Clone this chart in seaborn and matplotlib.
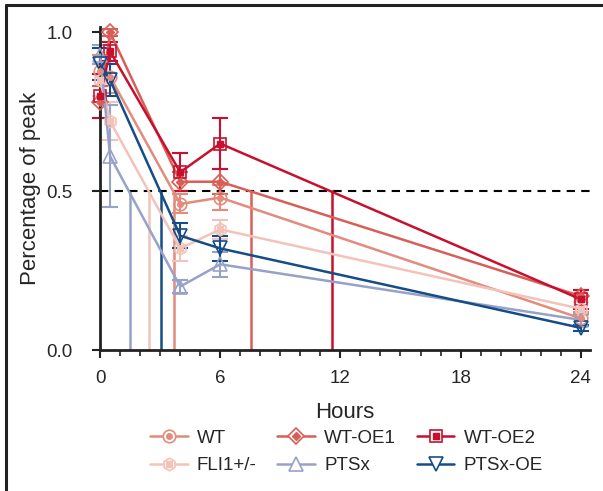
import numpy as np
import matplotlib.pyplot as plt
import seaborn as sns
from matplotlib.lines import Line2D
from matplotlib.legend_handler import HandlerTuple

# ---------------------------------------------------------
# data
# ---------------------------------------------------------
hours = [0, 0.5, 4, 6, 24]
series = ['WT', 'WT-OE1', 'WT-OE2', 'FLI1+/-', 'PTSx', 'PTSx-OE']

wt = [0.88, 0.86, 0.46, 0.48, 0.10]
wt_err = [0.05, 0.05, 0.03, 0.04, 0.02]
wt_oe1 = [0.78, 1.00, 0.53, 0.53, 0.17]
wt_oe1_err = [0.05, 0.01, 0.03, 0.04, 0.02]
wt_oe2 = [0.80, 0.94, 0.56, 0.65, 0.16]
wt_oe2_err = [0.07, 0.03, 0.06, 0.08, 0.03]
fli1 = [0.85, 0.72, 0.32, 0.38, 0.13]
fli1_err = [0.05, 0.06, 0.04, 0.03, 0.02]
ptsx = [0.93, 0.61, 0.20, 0.27, 0.095]
ptsx_err = [0.03, 0.16, 0.02, 0.04, 0.02]
ptsx_oe = [0.90, 0.85, 0.36, 0.32, 0.07]
ptsx_oe_err = [0.05, 0.05, 0.04, 0.04, 0.01]

# time to 50 % of peak
half_life = [3.7, 7.55, 11.6, 2.45, 1.5, 3.02]

values = [wt, wt_oe1, wt_oe2, fli1, ptsx, ptsx_oe]
errors = [wt_err, wt_oe1_err, wt_oe2_err, fli1_err, ptsx_err, ptsx_oe_err]

colors = ['#e38b7c', '#d85f58', '#c8102e', '#f3c3b9', '#97a2c9', '#164d86']
markers = ['o', 'D', 's', 'h', '^', 'v']
inner = [True, True, True, True, False, False]
msize = [9, 8, 8.5, 9, 10, 10]

# ---------------------------------------------------------
# plot
# ---------------------------------------------------------
sns.set_style('ticks')
plt.rcParams['font.family'] = ['Liberation Sans', 'DejaVu Sans']

fig = plt.figure(figsize=(6.03, 4.91), dpi=100)
ax = fig.add_axes([0.166, 0.287, 0.812, 0.658])

# half-life drop lines
for hl, c in zip(half_life, colors):
    ax.plot([hl, hl], [0, 0.5], color=c, lw=1.8, zorder=1)
ax.axhline(0.5, color='black', lw=1.5, ls=(0, (4, 3)), zorder=1)

handles = []
for name, v, e, c, m, inn, ms in zip(series, values, errors, colors, markers, inner, msize):
    ax.errorbar(hours, v, yerr=e, fmt='none', ecolor=c, elinewidth=1.5,
                capsize=6, capthick=1.5, zorder=2, clip_on=False)
    sns.lineplot(x=hours, y=v, color=c, lw=1.8, marker=m, markersize=ms,
                 markerfacecolor='none', markeredgecolor=c, markeredgewidth=1.2,
                 ax=ax, zorder=3, clip_on=False)
    h_line = Line2D([], [], color=c, lw=1.8, marker=m, markersize=ms,
                    markerfacecolor='white', markeredgecolor=c, markeredgewidth=1.2)
    if inn:
        im = m if m != 'h' else 's'
        ax.plot(hours, v, ls='none', marker=im, markersize=4,
                color=c, zorder=4, clip_on=False)
        h_in = Line2D([], [], ls='none', marker=im, markersize=4, color=c)
        handles.append((h_line, h_in))
    else:
        handles.append((h_line,))

ax.set_xlim(0, 24.45)
ax.set_ylim(0, 1.017)
ax.set_xticks([0, 6, 12, 18, 24])
ax.set_xticks(np.arange(0, 25, 1), minor=True)
ax.set_yticks([0.0, 0.5, 1.0])
ax.set_yticklabels(['0.0', '0.5', '1.0'])
ax.tick_params(axis='both', which='major', labelsize=13.5, length=6, width=1.5,
               direction='out', color='#222222')
ax.tick_params(axis='x', which='major', pad=8)
ax.tick_params(axis='y', which='major', pad=14)
ax.tick_params(axis='x', which='minor', length=4, width=1.2, color='#222222')
for s in ['left', 'bottom']:
    ax.spines[s].set_linewidth(2)
    ax.spines[s].set_color('#222222')
sns.despine(ax=ax)

ax.set_xlabel('Hours', fontsize=16, labelpad=11)
ax.set_ylabel('Percentage of peak', fontsize=16, labelpad=4)

order = [0, 3, 1, 4, 2, 5]
leg = ax.legend([handles[i] for i in order], [series[i] for i in order],
                handler_map={tuple: HandlerTuple(ndivide=1, pad=0)},
                ncol=3, loc='upper left', bbox_to_anchor=(0.102, -0.247),
                borderaxespad=0, borderpad=0,
                frameon=False, fontsize=13.5, handlelength=2.0,
                columnspacing=1.1, handletextpad=0.5, labelspacing=0.55)

# panel frame
fig.add_artist(Line2D([0.01, 1.0], [0.99, 0.99], color='#222222', lw=2.2,
                      transform=fig.transFigure))
fig.add_artist(Line2D([0.01, 0.01], [0.0, 0.99], color='#222222', lw=2.2,
                      transform=fig.transFigure))

fig.savefig('out.png', dpi=100)
